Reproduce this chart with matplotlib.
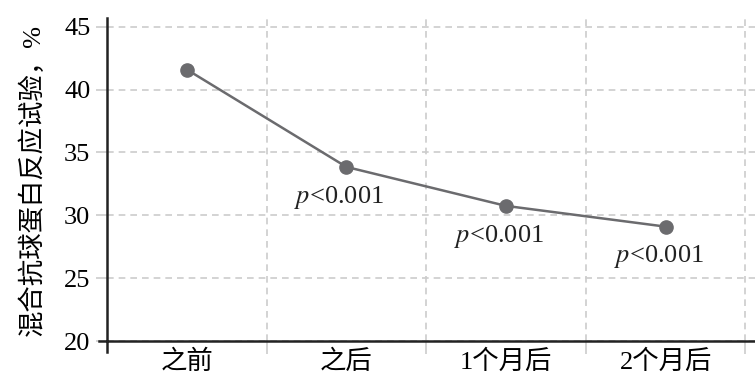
import numpy as np
import matplotlib
matplotlib.use("Agg")
import matplotlib.pyplot as plt
from matplotlib.lines import Line2D

plt.rcParams['font.family'] = ['Liberation Serif', 'Noto Sans CJK SC', 'DejaVu Sans']
plt.rcParams['mathtext.fontset'] = 'stix'

# Data #
categories = ["之前", "之后", "1个月后", "2个月后"]
values = [41.6, 33.85, 30.75, 29.1]
notes = ["", "$p$<0.001", "$p$<0.001", "$p$<0.001"]
y_ticks = [20, 25, 30, 35, 40, 45]

LINE_COLOR = "#6b6b6e"
GRID_COLOR = "#cccccc"

fig = plt.figure(figsize=(7.55, 3.8), dpi=100)
ax = fig.add_axes([107 / 755, 39 / 380, 648 / 755, 323 / 380])

x = np.arange(len(categories))
ax.plot(x, values, color=LINE_COLOR, lw=1.8, marker="o", ms=9.5, zorder=3)

# p-value notes under the points #
for xi, yi, txt in zip(x, values, notes):
    if txt:
        ax.annotate(txt, (xi, yi), xytext=(-5, -12), textcoords="offset points",
                    ha="center", va="top", fontsize=19, color="#222222")

ax.set_xlim(-0.5, 3.56)
ax.set_ylim(20, 45.7)

ax.set_xticks(x)
ax.set_xticklabels(categories, fontsize=19)
ax.tick_params(axis="x", which="major", length=0, pad=6)
ax.set_xticks([0.5, 1.5, 2.5, 3.5], minor=True)
ax.tick_params(axis="x", which="minor", length=9, color=GRID_COLOR, width=1.2)

ax.set_yticks(y_ticks)
ax.set_yticklabels([str(v) for v in y_ticks], fontsize=19)
ax.tick_params(axis="y", length=8, color=GRID_COLOR, width=1.2, pad=4)

ax.grid(True, which="minor", axis="x", color=GRID_COLOR, ls=(0, (4, 3)), lw=1.2)
ax.grid(True, which="major", axis="y", color=GRID_COLOR, ls=(0, (4, 3)), lw=1.2)
ax.set_axisbelow(True)

for side in ["top", "right"]:
    ax.spines[side].set_visible(False)
ax.spines["left"].set_linewidth(1.8)
ax.spines["bottom"].set_linewidth(1.8)
ax.spines["left"].set_color("#222222")
ax.spines["bottom"].set_color("#222222")

# little overhangs of the spines at the corner #
ax.add_line(Line2D([-0.013, 0], [0, 0], transform=ax.transAxes, color="#222222",
                   lw=1.8, clip_on=False))
ax.add_line(Line2D([0, 0], [-0.035, 0], transform=ax.transAxes, color="#222222",
                   lw=1.8, clip_on=False))

ax.set_ylabel("混合抗球蛋白反应试验，%", fontsize=19, labelpad=14)

fig.savefig("out.png", dpi=100)
